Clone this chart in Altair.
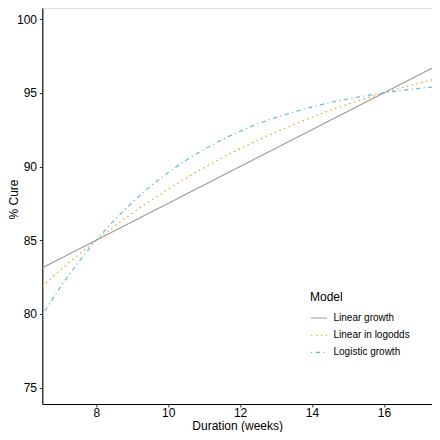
import altair as alt
import pandas as pd

weeks = [6.5, 7.0, 7.5, 8.0, 8.5, 9.0, 9.5, 10.0, 10.5, 11.0, 11.5, 12.0,
         12.5, 13.0, 13.5, 14.0, 14.5, 15.0, 15.5, 16.0, 16.5, 17.0, 17.5]
linear_growth = [83.13, 83.75, 84.38, 85.00, 85.63, 86.25, 86.88, 87.50, 88.13, 88.75, 89.38, 90.00,
                 90.63, 91.25, 91.88, 92.50, 93.13, 93.75, 94.38, 95.00, 95.63, 96.25, 96.88]
linear_logodds = [81.87, 82.97, 84.01, 85.00, 85.94, 86.83, 87.67, 88.46, 89.21, 89.92, 90.59, 91.21,
                  91.80, 92.35, 92.87, 93.35, 93.81, 94.23, 94.63, 95.00, 95.35, 95.67, 95.98]
logistic_growth = [79.94, 81.80, 83.48, 85.00, 86.35, 87.56, 88.64, 89.59, 90.43, 91.17, 91.82, 92.40,
                   92.90, 93.33, 93.71, 94.05, 94.34, 94.59, 94.81, 95.00, 95.17, 95.31, 95.43]

models = ["Linear growth", "Linear in logodds", "Logistic growth"]
colors = ["#999999", "#E69F00", "#56B4E9"]
dashes = [[1, 0], [1.5, 3.5], [1.2, 3.3, 4.4, 3.3]]
x_ticks = [8, 10, 12, 14, 16]
y_ticks = [75, 80, 85, 90, 95, 100]

rows = []
for name, vals in zip(models, [linear_growth, linear_logodds, logistic_growth]):
    for w, v in zip(weeks, vals):
        rows.append({"Duration": w, "Cure": v, "Model": name})
df = pd.DataFrame(rows)

FONT = "Liberation Sans"

legend_kw = dict(
    orient="none", legendX=267.7, legendY=283.5, title="Model",
    titleFontSize=12, titleFontWeight="normal", titleColor="#000", titleFont=FONT,
    titlePadding=5.5, labelFontSize=10, labelColor="#000", labelFont=FONT,
    symbolType="stroke", symbolSize=256, symbolStrokeWidth=1.1,
    labelOffset=5.5, rowPadding=3.2, padding=0,
)

chart = alt.Chart(df).mark_line(strokeWidth=1.1, interpolate="monotone", clip=True).encode(
    x=alt.X("Duration:Q",
            scale=alt.Scale(domain=[6.5, 17.337], nice=False, zero=False),
            axis=alt.Axis(values=x_ticks, title="Duration (weeks)", grid=False,
                          domainColor="#000", domainWidth=1.1, tickColor="#333", tickSize=3,
                          tickWidth=1, labelFontSize=12, labelColor="#000", labelFont=FONT,
                          labelBaseline="alphabetic", labelPadding=9.5, labelFlush=False,
                          titleFontSize=12, titleFontWeight="normal", titleColor="#000",
                          titleFont=FONT, titleBaseline="alphabetic", titleY=25.5)),
    y=alt.Y("Cure:Q",
            scale=alt.Scale(domain=[73.887, 100.76], nice=False, zero=False),
            axis=alt.Axis(values=y_ticks, title="% Cure", grid=False,
                          domainColor="#000", domainWidth=1.1, tickColor="#333", tickSize=3,
                          tickWidth=1, labelFontSize=12, labelColor="#000", labelFont=FONT,
                          labelPadding=2.8,
                          titleFontSize=12, titleFontWeight="normal", titleColor="#000",
                          titleFont=FONT, titleBaseline="alphabetic", titleAlign="center",
                          titleAngle=270, titleX=-24.8, titleY=191)),
    color=alt.Color("Model:N", scale=alt.Scale(domain=models, range=colors),
                    legend=alt.Legend(**legend_kw)),
    strokeDash=alt.StrokeDash("Model:N", scale=alt.Scale(domain=models, range=dashes),
                              legend=alt.Legend(**legend_kw)),
).properties(
    width=389.7, height=396,
    autosize=alt.AutoSizeParams(type="none"),
    padding={"left": 34.3, "top": 0, "right": 0, "bottom": 27.5},
).configure_view(stroke=None).configure(background="white", font=FONT)

chart.save("out.html", embed_options={"renderer": "svg", "actions": False})
